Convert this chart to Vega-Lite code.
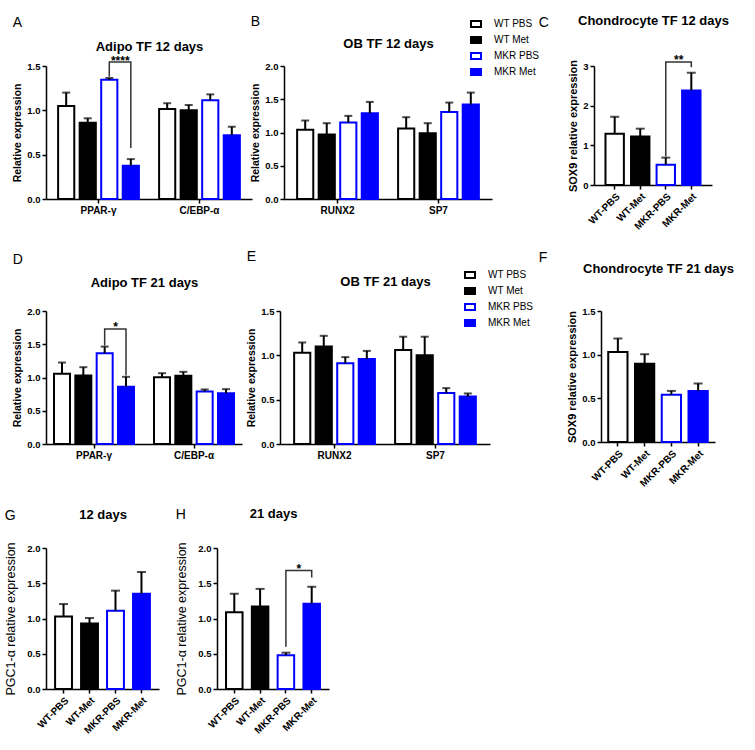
{
  "$schema": "https://vega.github.io/schema/vega-lite/v6.json",
  "padding": {"left": 4, "top": 14, "right": 3, "bottom": 3},
  "background": "white",
  "datasets": {
    "bars": [
      {"p": "A", "gene": "PPAR-γ", "group": "WT PBS", "mean": 1.05, "err": 1.2},
      {"p": "A", "gene": "PPAR-γ", "group": "WT Met", "mean": 0.86, "err": 0.91},
      {"p": "A", "gene": "PPAR-γ", "group": "MKR PBS", "mean": 1.345, "err": 1.365},
      {"p": "A", "gene": "PPAR-γ", "group": "MKR Met", "mean": 0.375, "err": 0.45},
      {"p": "A", "gene": "C/EBP-α", "group": "WT PBS", "mean": 1.015, "err": 1.08},
      {"p": "A", "gene": "C/EBP-α", "group": "WT Met", "mean": 1.0, "err": 1.06},
      {"p": "A", "gene": "C/EBP-α", "group": "MKR PBS", "mean": 1.115, "err": 1.18},
      {"p": "A", "gene": "C/EBP-α", "group": "MKR Met", "mean": 0.72, "err": 0.815},
      {"p": "B", "gene": "RUNX2", "group": "WT PBS", "mean": 1.04, "err": 1.18},
      {"p": "B", "gene": "RUNX2", "group": "WT Met", "mean": 0.97, "err": 1.14},
      {"p": "B", "gene": "RUNX2", "group": "MKR PBS", "mean": 1.15, "err": 1.25},
      {"p": "B", "gene": "RUNX2", "group": "MKR Met", "mean": 1.29, "err": 1.46},
      {"p": "B", "gene": "SP7", "group": "WT PBS", "mean": 1.06, "err": 1.23},
      {"p": "B", "gene": "SP7", "group": "WT Met", "mean": 0.99, "err": 1.14},
      {"p": "B", "gene": "SP7", "group": "MKR PBS", "mean": 1.31, "err": 1.45},
      {"p": "B", "gene": "SP7", "group": "MKR Met", "mean": 1.42, "err": 1.6},
      {"p": "C", "gene": "SOX9", "group": "WT PBS", "mean": 1.29, "err": 1.72},
      {"p": "C", "gene": "SOX9", "group": "WT Met", "mean": 1.22, "err": 1.42},
      {"p": "C", "gene": "SOX9", "group": "MKR PBS", "mean": 0.51, "err": 0.69},
      {"p": "C", "gene": "SOX9", "group": "MKR Met", "mean": 2.38, "err": 2.83},
      {"p": "D", "gene": "PPAR-γ", "group": "WT PBS", "mean": 1.055, "err": 1.225},
      {"p": "D", "gene": "PPAR-γ", "group": "WT Met", "mean": 1.03, "err": 1.155},
      {"p": "D", "gene": "PPAR-γ", "group": "MKR PBS", "mean": 1.365, "err": 1.465},
      {"p": "D", "gene": "PPAR-γ", "group": "MKR Met", "mean": 0.86, "err": 1.01},
      {"p": "D", "gene": "C/EBP-α", "group": "WT PBS", "mean": 1.005, "err": 1.065},
      {"p": "D", "gene": "C/EBP-α", "group": "WT Met", "mean": 1.025, "err": 1.085},
      {"p": "D", "gene": "C/EBP-α", "group": "MKR PBS", "mean": 0.79, "err": 0.82},
      {"p": "D", "gene": "C/EBP-α", "group": "MKR Met", "mean": 0.765, "err": 0.825},
      {"p": "E", "gene": "RUNX2", "group": "WT PBS", "mean": 1.03, "err": 1.145},
      {"p": "E", "gene": "RUNX2", "group": "WT Met", "mean": 1.1, "err": 1.22},
      {"p": "E", "gene": "RUNX2", "group": "MKR PBS", "mean": 0.91, "err": 0.98},
      {"p": "E", "gene": "RUNX2", "group": "MKR Met", "mean": 0.96, "err": 1.05},
      {"p": "E", "gene": "SP7", "group": "WT PBS", "mean": 1.06, "err": 1.21},
      {"p": "E", "gene": "SP7", "group": "WT Met", "mean": 1.0, "err": 1.21},
      {"p": "E", "gene": "SP7", "group": "MKR PBS", "mean": 0.575, "err": 0.63},
      {"p": "E", "gene": "SP7", "group": "MKR Met", "mean": 0.535, "err": 0.57},
      {"p": "F", "gene": "SOX9", "group": "WT PBS", "mean": 1.03, "err": 1.185},
      {"p": "F", "gene": "SOX9", "group": "WT Met", "mean": 0.895, "err": 1.005},
      {"p": "F", "gene": "SOX9", "group": "MKR PBS", "mean": 0.54, "err": 0.585},
      {"p": "F", "gene": "SOX9", "group": "MKR Met", "mean": 0.585, "err": 0.67},
      {"p": "G", "gene": "PGC1", "group": "WT PBS", "mean": 1.03, "err": 1.205},
      {"p": "G", "gene": "PGC1", "group": "WT Met", "mean": 0.93, "err": 1.007},
      {"p": "G", "gene": "PGC1", "group": "MKR PBS", "mean": 1.11, "err": 1.395},
      {"p": "G", "gene": "PGC1", "group": "MKR Met", "mean": 1.35, "err": 1.66},
      {"p": "H", "gene": "PGC1", "group": "WT PBS", "mean": 1.09, "err": 1.35},
      {"p": "H", "gene": "PGC1", "group": "WT Met", "mean": 1.17, "err": 1.42},
      {"p": "H", "gene": "PGC1", "group": "MKR PBS", "mean": 0.48, "err": 0.515},
      {"p": "H", "gene": "PGC1", "group": "MKR Met", "mean": 1.21, "err": 1.45}
    ],
    "brackets": [
      {"p": "A", "gene": "PPAR-γ", "group": "MKR PBS", "y": 1.38, "o": 1},
      {"p": "A", "gene": "PPAR-γ", "group": "MKR PBS", "y": 1.545, "o": 2},
      {"p": "A", "gene": "PPAR-γ", "group": "MKR Met", "y": 1.545, "o": 3},
      {"p": "A", "gene": "PPAR-γ", "group": "MKR Met", "y": 0.575, "o": 4},
      {"p": "C", "gene": "SOX9", "group": "MKR PBS", "y": 0.72, "o": 1},
      {"p": "C", "gene": "SOX9", "group": "MKR PBS", "y": 3.1, "o": 2},
      {"p": "C", "gene": "SOX9", "group": "MKR Met", "y": 3.1, "o": 3},
      {"p": "C", "gene": "SOX9", "group": "MKR Met", "y": 2.97, "o": 4},
      {"p": "D", "gene": "PPAR-γ", "group": "MKR PBS", "y": 1.48, "o": 1},
      {"p": "D", "gene": "PPAR-γ", "group": "MKR PBS", "y": 1.73, "o": 2},
      {"p": "D", "gene": "PPAR-γ", "group": "MKR Met", "y": 1.73, "o": 3},
      {"p": "D", "gene": "PPAR-γ", "group": "MKR Met", "y": 1.03, "o": 4},
      {"p": "H", "gene": "PGC1", "group": "MKR PBS", "y": 0.6, "o": 1},
      {"p": "H", "gene": "PGC1", "group": "MKR PBS", "y": 1.68, "o": 2},
      {"p": "H", "gene": "PGC1", "group": "MKR Met", "y": 1.68, "o": 3},
      {"p": "H", "gene": "PGC1", "group": "MKR Met", "y": 1.58, "o": 4}
    ],
    "stars": [
      {"p": "A", "gene": "PPAR-γ", "group": "MKR PBS", "y": 1.545, "s": "****"},
      {"p": "C", "gene": "SOX9", "group": "MKR PBS", "y": 3.1, "s": "**"},
      {"p": "D", "gene": "PPAR-γ", "group": "MKR PBS", "y": 1.73, "s": "*"},
      {"p": "H", "gene": "PGC1", "group": "MKR PBS", "y": 1.68, "s": "*"}
    ]
  },
  "config": {
    "view": {"stroke": null},
    "axis": {
      "grid": false, "domainColor": "black", "domainWidth": 1.5, "tickColor": "black", "tickWidth": 1.5, "tickSize": 4, "labelPadding": 2,
      "labelColor": "black", "labelFont": "Liberation Sans", "labelFontWeight": "bold", "labelFontSize": 9.5, "labelOverlap": false,
      "titleColor": "black", "titleFont": "Liberation Sans", "titleFontWeight": "bold", "titleFontSize": 10.5, "titlePadding": 4
    },
    "axisY": {"labelOverlap": false},
    "axisQuantitative": {"labelOverlap": false},
    "title": {"font": "Liberation Sans", "fontWeight": "normal", "fontSize": 14, "color": "black", "anchor": "start"},
    "legend": {"labelFont": "Liberation Sans", "labelFontSize": 10, "labelColor": "black"}
  },
  "resolve": {"scale": {"fill": "independent", "stroke": "independent", "xOffset": "independent"}},
  "spacing": 18,
  "vconcat": [
    {
      "resolve": {"scale": {"fill": "independent", "stroke": "independent", "xOffset": "independent"}},
      "spacing": -2,
      "hconcat": [
        {
          "width": 206, "height": 133,
          "title": {"text": "A", "offset": 11},
          "resolve": {"axis": {"x": "independent"}},
          "layer": [
            {
              "data": {"name": "bars"}, "transform": [{"filter": "datum.p === 'A'"}],
              "mark": {"type": "bar", "strokeWidth": 2},
              "encoding": {
                "x": {"field": "gene", "type": "nominal", "sort": ["PPAR-γ", "C/EBP-α"], "title": null, "scale": {"paddingInner": 0.2, "paddingOuter": 0.12}, "axis": {"labelAngle": 0, "labelFontSize": 10}},
                "xOffset": {"field": "group", "type": "nominal", "sort": ["WT PBS", "WT Met", "MKR PBS", "MKR Met"], "scale": {"paddingInner": 0.25}},
                "y": {"field": "mean", "type": "quantitative", "title": "Relative expression", "scale": {"domain": [0, 1.5], "nice": false}, "axis": {"values": [0, 0.5, 1, 1.5], "format": ".1f", "labelOverlap": false}},
                "fill": {"field": "group", "type": "nominal", "legend": null, "scale": {"domain": ["WT PBS", "WT Met", "MKR PBS", "MKR Met"], "range": ["white", "black", "white", "#0000ff"]}},
                "stroke": {"field": "group", "type": "nominal", "legend": null, "scale": {"domain": ["WT PBS", "WT Met", "MKR PBS", "MKR Met"], "range": ["black", "black", "#0000ff", "#0000ff"]}}
              }
            },
            {
              "data": {"name": "bars"}, "transform": [{"filter": "datum.p === 'A'"}],
              "mark": {"type": "rule", "color": "black", "strokeWidth": 2},
              "encoding": {
                "x": {"field": "gene", "type": "nominal", "sort": ["PPAR-γ", "C/EBP-α"], "axis": null},
                "xOffset": {"field": "group", "type": "nominal", "sort": ["WT PBS", "WT Met", "MKR PBS", "MKR Met"]},
                "y": {"field": "mean", "type": "quantitative", "title": "Relative expression", "axis": {"values": [0, 0.5, 1, 1.5], "format": ".1f", "labelOverlap": false}},
                "y2": {"field": "err"}
              }
            },
            {
              "data": {"name": "bars"}, "transform": [{"filter": "datum.p === 'A'"}],
              "mark": {"type": "tick", "color": "black", "thickness": 2, "size": 8},
              "encoding": {
                "x": {"field": "gene", "type": "nominal", "sort": ["PPAR-γ", "C/EBP-α"], "axis": {"orient": "top", "title": "Adipo TF 12 days", "labels": false, "ticks": false, "domain": false, "titlePadding": 12.5, "titleFontSize": 13, "titleFontWeight": "bold", "minExtent": 0}},
                "xOffset": {"field": "group", "type": "nominal", "sort": ["WT PBS", "WT Met", "MKR PBS", "MKR Met"]},
                "y": {"field": "err", "type": "quantitative", "title": "Relative expression", "axis": {"values": [0, 0.5, 1, 1.5], "format": ".1f", "labelOverlap": false}}
              }
            },
            {
              "data": {"name": "brackets"}, "transform": [{"filter": "datum.p === 'A'"}],
              "mark": {"type": "line", "color": "#333333", "strokeWidth": 1.5},
              "encoding": {
                "x": {"field": "gene", "type": "nominal", "sort": ["PPAR-γ", "C/EBP-α"], "axis": null},
                "xOffset": {"field": "group", "type": "nominal", "sort": ["WT PBS", "WT Met", "MKR PBS", "MKR Met"]},
                "y": {"field": "y", "type": "quantitative", "title": "Relative expression", "axis": {"values": [0, 0.5, 1, 1.5], "format": ".1f", "labelOverlap": false}},
                "order": {"field": "o"}
              }
            },
            {
              "data": {"name": "stars"}, "transform": [{"filter": "datum.p === 'A'"}],
              "mark": {"type": "text", "font": "Liberation Sans", "fontWeight": "bold", "fontSize": 12, "dx": 11, "dy": 3, "baseline": "alphabetic", "color": "black"},
              "encoding": {
                "x": {"field": "gene", "type": "nominal", "sort": ["PPAR-γ", "C/EBP-α"], "axis": null},
                "xOffset": {"field": "group", "type": "nominal", "sort": ["WT PBS", "WT Met", "MKR PBS", "MKR Met"]},
                "y": {"field": "y", "type": "quantitative", "title": "Relative expression", "axis": {"values": [0, 0.5, 1, 1.5], "format": ".1f", "labelOverlap": false}},
                "text": {"field": "s"}
              }
            }
          ]
        },
        {
          "width": 208, "height": 133,
          "title": {"text": "B", "offset": 0, "dy": 11},
          "resolve": {"axis": {"x": "independent"}},
          "layer": [
            {
              "data": {"name": "bars"}, "transform": [{"filter": "datum.p === 'B'"}],
              "mark": {"type": "bar", "strokeWidth": 2},
              "encoding": {
                "x": {"field": "gene", "type": "nominal", "sort": ["RUNX2", "SP7"], "title": null, "scale": {"paddingInner": 0.2, "paddingOuter": 0.13}, "axis": {"labelAngle": 0, "labelFontSize": 10}},
                "xOffset": {"field": "group", "type": "nominal", "sort": ["WT PBS", "WT Met", "MKR PBS", "MKR Met"], "scale": {"paddingInner": 0.25}},
                "y": {"field": "mean", "type": "quantitative", "title": "Relative expression", "scale": {"domain": [0, 2], "nice": false}, "axis": {"values": [0, 0.5, 1, 1.5, 2], "format": ".1f", "labelOverlap": false}},
                "fill": {"field": "group", "type": "nominal", "title": null, "scale": {"domain": ["WT PBS", "WT Met", "MKR PBS", "MKR Met"], "range": ["white", "black", "white", "#0000ff"]},
                  "legend": {"orient": "none", "legendX": 186, "legendY": -48, "symbolType": "M-1,-0.6H1V0.6H-1Z", "symbolSize": 100, "symbolStrokeWidth": 2, "labelOffset": 12, "rowPadding": 2}},
                "stroke": {"field": "group", "type": "nominal", "title": null, "scale": {"domain": ["WT PBS", "WT Met", "MKR PBS", "MKR Met"], "range": ["black", "black", "#0000ff", "#0000ff"]},
                  "legend": {"orient": "none", "legendX": 186, "legendY": -48, "symbolType": "M-1,-0.6H1V0.6H-1Z", "symbolSize": 100, "symbolStrokeWidth": 2, "labelOffset": 12, "rowPadding": 2}}
              }
            },
            {
              "data": {"name": "bars"}, "transform": [{"filter": "datum.p === 'B'"}],
              "mark": {"type": "rule", "color": "black", "strokeWidth": 2},
              "encoding": {
                "x": {"field": "gene", "type": "nominal", "sort": ["RUNX2", "SP7"], "axis": null},
                "xOffset": {"field": "group", "type": "nominal", "sort": ["WT PBS", "WT Met", "MKR PBS", "MKR Met"]},
                "y": {"field": "mean", "type": "quantitative", "title": "Relative expression", "axis": {"values": [0, 0.5, 1, 1.5, 2], "format": ".1f", "labelOverlap": false}},
                "y2": {"field": "err"}
              }
            },
            {
              "data": {"name": "bars"}, "transform": [{"filter": "datum.p === 'B'"}],
              "mark": {"type": "tick", "color": "black", "thickness": 2, "size": 8},
              "encoding": {
                "x": {"field": "gene", "type": "nominal", "sort": ["RUNX2", "SP7"], "axis": {"orient": "top", "title": "OB TF 12 days", "labels": false, "ticks": false, "domain": false, "titlePadding": 15.5, "titleFontSize": 13, "titleFontWeight": "bold", "minExtent": 0}},
                "xOffset": {"field": "group", "type": "nominal", "sort": ["WT PBS", "WT Met", "MKR PBS", "MKR Met"]},
                "y": {"field": "err", "type": "quantitative", "title": "Relative expression", "axis": {"values": [0, 0.5, 1, 1.5, 2], "format": ".1f", "labelOverlap": false}}
              }
            }
          ]
        },
        {
          "width": 118, "height": 119,
          "title": {"text": "C", "offset": 0, "dy": 15, "dx": -29},
          "resolve": {"axis": {"x": "independent"}},
          "layer": [
            {
              "data": {"name": "bars"}, "transform": [{"filter": "datum.p === 'C'"}],
              "mark": {"type": "bar", "strokeWidth": 2},
              "encoding": {
                "x": {"field": "group", "type": "nominal", "sort": ["WT PBS", "WT Met", "MKR PBS", "MKR Met"], "title": null, "scale": {"paddingInner": 0.28, "paddingOuter": 0.45}, "axis": {"labelAngle": -45, "labelFontSize": 10, "labelExpr": "replace(datum.label, ' ', '-')"}},
                "y": {"field": "mean", "type": "quantitative", "title": "SOX9 relative expression", "scale": {"domain": [0, 3], "nice": false}, "axis": {"values": [0, 1, 2, 3], "format": "d", "titleFontSize": 11, "labelOverlap": false}},
                "fill": {"field": "group", "type": "nominal", "legend": null, "scale": {"domain": ["WT PBS", "WT Met", "MKR PBS", "MKR Met"], "range": ["white", "black", "white", "#0000ff"]}},
                "stroke": {"field": "group", "type": "nominal", "legend": null, "scale": {"domain": ["WT PBS", "WT Met", "MKR PBS", "MKR Met"], "range": ["black", "black", "#0000ff", "#0000ff"]}}
              }
            },
            {
              "data": {"name": "bars"}, "transform": [{"filter": "datum.p === 'C'"}],
              "mark": {"type": "rule", "color": "black", "strokeWidth": 2},
              "encoding": {
                "x": {"field": "group", "type": "nominal", "sort": ["WT PBS", "WT Met", "MKR PBS", "MKR Met"], "axis": null},
                "y": {"field": "mean", "type": "quantitative", "title": "SOX9 relative expression", "axis": {"values": [0, 1, 2, 3], "format": "d", "titleFontSize": 11, "labelOverlap": false}},
                "y2": {"field": "err"}
              }
            },
            {
              "data": {"name": "bars"}, "transform": [{"filter": "datum.p === 'C'"}],
              "mark": {"type": "tick", "color": "black", "thickness": 2, "size": 9},
              "encoding": {
                "x": {"field": "group", "type": "nominal", "sort": ["WT PBS", "WT Met", "MKR PBS", "MKR Met"], "axis": {"orient": "top", "title": "Chondrocyte TF 12 days", "labels": false, "ticks": false, "domain": false, "titlePadding": 38.5, "titleFontSize": 13, "titleFontWeight": "bold", "minExtent": 0}},
                "y": {"field": "err", "type": "quantitative", "title": "SOX9 relative expression", "axis": {"values": [0, 1, 2, 3], "format": "d", "titleFontSize": 11, "labelOverlap": false}}
              }
            },
            {
              "data": {"name": "brackets"}, "transform": [{"filter": "datum.p === 'C'"}],
              "mark": {"type": "line", "color": "#333333", "strokeWidth": 1.5},
              "encoding": {
                "x": {"field": "group", "type": "nominal", "sort": ["WT PBS", "WT Met", "MKR PBS", "MKR Met"], "axis": null},
                "y": {"field": "y", "type": "quantitative", "title": "SOX9 relative expression", "axis": {"values": [0, 1, 2, 3], "format": "d", "titleFontSize": 11, "labelOverlap": false}},
                "order": {"field": "o"}
              }
            },
            {
              "data": {"name": "stars"}, "transform": [{"filter": "datum.p === 'C'"}],
              "mark": {"type": "text", "font": "Liberation Sans", "fontWeight": "bold", "fontSize": 12, "dx": 13, "dy": 2, "baseline": "alphabetic", "color": "black"},
              "encoding": {
                "x": {"field": "group", "type": "nominal", "sort": ["WT PBS", "WT Met", "MKR PBS", "MKR Met"], "axis": null},
                "y": {"field": "y", "type": "quantitative", "title": "SOX9 relative expression", "axis": {"values": [0, 1, 2, 3], "format": "d", "titleFontSize": 11, "labelOverlap": false}},
                "text": {"field": "s"}
              }
            }
          ]
        }
      ]
    },
    {
      "resolve": {"scale": {"fill": "independent", "stroke": "independent", "xOffset": "independent"}},
      "spacing": 4,
      "hconcat": [
        {
          "width": 196, "height": 133,
          "title": {"text": "D", "offset": 10},
          "resolve": {"axis": {"x": "independent"}},
          "layer": [
            {
              "data": {"name": "bars"}, "transform": [{"filter": "datum.p === 'D'"}],
              "mark": {"type": "bar", "strokeWidth": 2},
              "encoding": {
                "x": {"field": "gene", "type": "nominal", "sort": ["PPAR-γ", "C/EBP-α"], "title": null, "scale": {"paddingInner": 0.2, "paddingOuter": 0.08}, "axis": {"labelAngle": 0, "labelFontSize": 10}},
                "xOffset": {"field": "group", "type": "nominal", "sort": ["WT PBS", "WT Met", "MKR PBS", "MKR Met"], "scale": {"paddingInner": 0.25}},
                "y": {"field": "mean", "type": "quantitative", "title": "Relative expression", "scale": {"domain": [0, 2], "nice": false}, "axis": {"values": [0, 0.5, 1, 1.5, 2], "format": ".1f", "labelOverlap": false}},
                "fill": {"field": "group", "type": "nominal", "legend": null, "scale": {"domain": ["WT PBS", "WT Met", "MKR PBS", "MKR Met"], "range": ["white", "black", "white", "#0000ff"]}},
                "stroke": {"field": "group", "type": "nominal", "legend": null, "scale": {"domain": ["WT PBS", "WT Met", "MKR PBS", "MKR Met"], "range": ["black", "black", "#0000ff", "#0000ff"]}}
              }
            },
            {
              "data": {"name": "bars"}, "transform": [{"filter": "datum.p === 'D'"}],
              "mark": {"type": "rule", "color": "black", "strokeWidth": 2},
              "encoding": {
                "x": {"field": "gene", "type": "nominal", "sort": ["PPAR-γ", "C/EBP-α"], "axis": null},
                "xOffset": {"field": "group", "type": "nominal", "sort": ["WT PBS", "WT Met", "MKR PBS", "MKR Met"]},
                "y": {"field": "mean", "type": "quantitative", "title": "Relative expression", "axis": {"values": [0, 0.5, 1, 1.5, 2], "format": ".1f", "labelOverlap": false}},
                "y2": {"field": "err"}
              }
            },
            {
              "data": {"name": "bars"}, "transform": [{"filter": "datum.p === 'D'"}],
              "mark": {"type": "tick", "color": "black", "thickness": 2, "size": 8},
              "encoding": {
                "x": {"field": "gene", "type": "nominal", "sort": ["PPAR-γ", "C/EBP-α"], "axis": {"orient": "top", "title": "Adipo TF 21 days", "labels": false, "ticks": false, "domain": false, "titlePadding": 21.5, "titleFontSize": 13, "titleFontWeight": "bold", "minExtent": 0}},
                "xOffset": {"field": "group", "type": "nominal", "sort": ["WT PBS", "WT Met", "MKR PBS", "MKR Met"]},
                "y": {"field": "err", "type": "quantitative", "title": "Relative expression", "axis": {"values": [0, 0.5, 1, 1.5, 2], "format": ".1f", "labelOverlap": false}}
              }
            },
            {
              "data": {"name": "brackets"}, "transform": [{"filter": "datum.p === 'D'"}],
              "mark": {"type": "line", "color": "#333333", "strokeWidth": 1.5},
              "encoding": {
                "x": {"field": "gene", "type": "nominal", "sort": ["PPAR-γ", "C/EBP-α"], "axis": null},
                "xOffset": {"field": "group", "type": "nominal", "sort": ["WT PBS", "WT Met", "MKR PBS", "MKR Met"]},
                "y": {"field": "y", "type": "quantitative", "title": "Relative expression", "axis": {"values": [0, 0.5, 1, 1.5, 2], "format": ".1f", "labelOverlap": false}},
                "order": {"field": "o"}
              }
            },
            {
              "data": {"name": "stars"}, "transform": [{"filter": "datum.p === 'D'"}],
              "mark": {"type": "text", "font": "Liberation Sans", "fontWeight": "bold", "fontSize": 12, "dx": 11, "dy": 2, "baseline": "alphabetic", "color": "black"},
              "encoding": {
                "x": {"field": "gene", "type": "nominal", "sort": ["PPAR-γ", "C/EBP-α"], "axis": null},
                "xOffset": {"field": "group", "type": "nominal", "sort": ["WT PBS", "WT Met", "MKR PBS", "MKR Met"]},
                "y": {"field": "y", "type": "quantitative", "title": "Relative expression", "axis": {"values": [0, 0.5, 1, 1.5, 2], "format": ".1f", "labelOverlap": false}},
                "text": {"field": "s"}
              }
            }
          ]
        },
        {
          "width": 210, "height": 133,
          "title": {"text": "E", "offset": 5},
          "resolve": {"axis": {"x": "independent"}},
          "layer": [
            {
              "data": {"name": "bars"}, "transform": [{"filter": "datum.p === 'E'"}],
              "mark": {"type": "bar", "strokeWidth": 2},
              "encoding": {
                "x": {"field": "gene", "type": "nominal", "sort": ["RUNX2", "SP7"], "title": null, "scale": {"paddingInner": 0.2, "paddingOuter": 0.14}, "axis": {"labelAngle": 0, "labelFontSize": 10}},
                "xOffset": {"field": "group", "type": "nominal", "sort": ["WT PBS", "WT Met", "MKR PBS", "MKR Met"], "scale": {"paddingInner": 0.25}},
                "y": {"field": "mean", "type": "quantitative", "title": "Relative expression", "scale": {"domain": [0, 1.5], "nice": false}, "axis": {"values": [0, 0.5, 1, 1.5], "format": ".1f", "labelOverlap": false}},
                "fill": {"field": "group", "type": "nominal", "title": null, "scale": {"domain": ["WT PBS", "WT Met", "MKR PBS", "MKR Met"], "range": ["white", "black", "white", "#0000ff"]},
                  "legend": {"orient": "none", "legendX": 184, "legendY": -42, "symbolType": "M-1,-0.6H1V0.6H-1Z", "symbolSize": 100, "symbolStrokeWidth": 2, "labelOffset": 12, "rowPadding": 2}},
                "stroke": {"field": "group", "type": "nominal", "title": null, "scale": {"domain": ["WT PBS", "WT Met", "MKR PBS", "MKR Met"], "range": ["black", "black", "#0000ff", "#0000ff"]},
                  "legend": {"orient": "none", "legendX": 184, "legendY": -42, "symbolType": "M-1,-0.6H1V0.6H-1Z", "symbolSize": 100, "symbolStrokeWidth": 2, "labelOffset": 12, "rowPadding": 2}}
              }
            },
            {
              "data": {"name": "bars"}, "transform": [{"filter": "datum.p === 'E'"}],
              "mark": {"type": "rule", "color": "black", "strokeWidth": 2},
              "encoding": {
                "x": {"field": "gene", "type": "nominal", "sort": ["RUNX2", "SP7"], "axis": null},
                "xOffset": {"field": "group", "type": "nominal", "sort": ["WT PBS", "WT Met", "MKR PBS", "MKR Met"]},
                "y": {"field": "mean", "type": "quantitative", "title": "Relative expression", "axis": {"values": [0, 0.5, 1, 1.5], "format": ".1f", "labelOverlap": false}},
                "y2": {"field": "err"}
              }
            },
            {
              "data": {"name": "bars"}, "transform": [{"filter": "datum.p === 'E'"}],
              "mark": {"type": "tick", "color": "black", "thickness": 2, "size": 8},
              "encoding": {
                "x": {"field": "gene", "type": "nominal", "sort": ["RUNX2", "SP7"], "axis": {"orient": "top", "title": "OB TF 21 days", "labels": false, "ticks": false, "domain": false, "titlePadding": 22.5, "titleFontSize": 13, "titleFontWeight": "bold", "minExtent": 0}},
                "xOffset": {"field": "group", "type": "nominal", "sort": ["WT PBS", "WT Met", "MKR PBS", "MKR Met"]},
                "y": {"field": "err", "type": "quantitative", "title": "Relative expression", "axis": {"values": [0, 0.5, 1, 1.5], "format": ".1f", "labelOverlap": false}}
              }
            }
          ]
        },
        {
          "width": 114, "height": 131,
          "title": {"text": "F", "offset": 0, "dy": 2, "dx": -28},
          "resolve": {"axis": {"x": "independent"}},
          "layer": [
            {
              "data": {"name": "bars"}, "transform": [{"filter": "datum.p === 'F'"}],
              "mark": {"type": "bar", "strokeWidth": 2},
              "encoding": {
                "x": {"field": "group", "type": "nominal", "sort": ["WT PBS", "WT Met", "MKR PBS", "MKR Met"], "title": null, "scale": {"paddingInner": 0.28, "paddingOuter": 0.27}, "axis": {"labelAngle": -45, "labelFontSize": 10, "labelExpr": "replace(datum.label, ' ', '-')"}},
                "y": {"field": "mean", "type": "quantitative", "title": "SOX9 relative expression", "scale": {"domain": [0, 1.5], "nice": false}, "axis": {"values": [0, 0.5, 1, 1.5], "format": ".1f", "titleFontSize": 11, "labelOverlap": false}},
                "fill": {"field": "group", "type": "nominal", "legend": null, "scale": {"domain": ["WT PBS", "WT Met", "MKR PBS", "MKR Met"], "range": ["white", "black", "white", "#0000ff"]}},
                "stroke": {"field": "group", "type": "nominal", "legend": null, "scale": {"domain": ["WT PBS", "WT Met", "MKR PBS", "MKR Met"], "range": ["black", "black", "#0000ff", "#0000ff"]}}
              }
            },
            {
              "data": {"name": "bars"}, "transform": [{"filter": "datum.p === 'F'"}],
              "mark": {"type": "rule", "color": "black", "strokeWidth": 2},
              "encoding": {
                "x": {"field": "group", "type": "nominal", "sort": ["WT PBS", "WT Met", "MKR PBS", "MKR Met"], "axis": null},
                "y": {"field": "mean", "type": "quantitative", "title": "SOX9 relative expression", "axis": {"values": [0, 0.5, 1, 1.5], "format": ".1f", "titleFontSize": 11, "labelOverlap": false}},
                "y2": {"field": "err"}
              }
            },
            {
              "data": {"name": "bars"}, "transform": [{"filter": "datum.p === 'F'"}],
              "mark": {"type": "tick", "color": "black", "thickness": 2, "size": 9},
              "encoding": {
                "x": {"field": "group", "type": "nominal", "sort": ["WT PBS", "WT Met", "MKR PBS", "MKR Met"], "axis": {"orient": "top", "title": "Chondrocyte TF 21 days", "labels": false, "ticks": false, "domain": false, "titlePadding": 35.5, "titleFontSize": 13, "titleFontWeight": "bold", "minExtent": 0}},
                "y": {"field": "err", "type": "quantitative", "title": "SOX9 relative expression", "axis": {"values": [0, 0.5, 1, 1.5], "format": ".1f", "titleFontSize": 11, "labelOverlap": false}}
              }
            }
          ]
        }
      ]
    },
    {
      "resolve": {"scale": {"fill": "independent", "stroke": "independent", "xOffset": "independent"}},
      "spacing": 16,
      "hconcat": [
        {
          "width": 113, "height": 141,
          "title": {"text": "G", "offset": 0, "dy": 14},
          "resolve": {"axis": {"x": "independent"}},
          "layer": [
            {
              "data": {"name": "bars"}, "transform": [{"filter": "datum.p === 'G'"}],
              "mark": {"type": "bar", "strokeWidth": 2},
              "encoding": {
                "x": {"field": "group", "type": "nominal", "sort": ["WT PBS", "WT Met", "MKR PBS", "MKR Met"], "title": null, "scale": {"paddingInner": 0.35, "paddingOuter": 0.35}, "axis": {"labelAngle": -45, "labelFontSize": 10, "labelExpr": "replace(datum.label, ' ', '-')"}},
                "y": {"field": "mean", "type": "quantitative", "title": "PGC1-α relative expression", "scale": {"domain": [0, 2], "nice": false}, "axis": {"values": [0, 0.5, 1, 1.5, 2], "format": ".1f", "titleFontSize": 12.5, "titleFontWeight": "normal", "titlePadding": 9, "labelOverlap": false}},
                "fill": {"field": "group", "type": "nominal", "legend": null, "scale": {"domain": ["WT PBS", "WT Met", "MKR PBS", "MKR Met"], "range": ["white", "black", "white", "#0000ff"]}},
                "stroke": {"field": "group", "type": "nominal", "legend": null, "scale": {"domain": ["WT PBS", "WT Met", "MKR PBS", "MKR Met"], "range": ["black", "black", "#0000ff", "#0000ff"]}}
              }
            },
            {
              "data": {"name": "bars"}, "transform": [{"filter": "datum.p === 'G'"}],
              "mark": {"type": "rule", "color": "black", "strokeWidth": 2},
              "encoding": {
                "x": {"field": "group", "type": "nominal", "sort": ["WT PBS", "WT Met", "MKR PBS", "MKR Met"], "axis": null},
                "y": {"field": "mean", "type": "quantitative", "title": "PGC1-α relative expression", "axis": {"values": [0, 0.5, 1, 1.5, 2], "format": ".1f", "titleFontSize": 12.5, "titleFontWeight": "normal", "titlePadding": 9, "labelOverlap": false}},
                "y2": {"field": "err"}
              }
            },
            {
              "data": {"name": "bars"}, "transform": [{"filter": "datum.p === 'G'"}],
              "mark": {"type": "tick", "color": "black", "thickness": 2, "size": 9},
              "encoding": {
                "x": {"field": "group", "type": "nominal", "sort": ["WT PBS", "WT Met", "MKR PBS", "MKR Met"], "axis": {"orient": "top", "title": "12 days", "labels": false, "ticks": false, "domain": false, "titlePadding": 26.5, "titleFontSize": 13, "titleFontWeight": "bold", "minExtent": 0}},
                "y": {"field": "err", "type": "quantitative", "title": "PGC1-α relative expression", "axis": {"values": [0, 0.5, 1, 1.5, 2], "format": ".1f", "titleFontSize": 12.5, "titleFontWeight": "normal", "titlePadding": 9, "labelOverlap": false}}
              }
            }
          ]
        },
        {
          "width": 112, "height": 141,
          "title": {"text": "H", "offset": 0, "dy": 14},
          "resolve": {"axis": {"x": "independent"}},
          "layer": [
            {
              "data": {"name": "bars"}, "transform": [{"filter": "datum.p === 'H'"}],
              "mark": {"type": "bar", "strokeWidth": 2},
              "encoding": {
                "x": {"field": "group", "type": "nominal", "sort": ["WT PBS", "WT Met", "MKR PBS", "MKR Met"], "title": null, "scale": {"paddingInner": 0.36, "paddingOuter": 0.35}, "axis": {"labelAngle": -45, "labelFontSize": 10, "labelExpr": "replace(datum.label, ' ', '-')"}},
                "y": {"field": "mean", "type": "quantitative", "title": "PGC1-α relative expression", "scale": {"domain": [0, 2], "nice": false}, "axis": {"values": [0, 0.5, 1, 1.5, 2], "format": ".1f", "titleFontSize": 12.5, "titleFontWeight": "normal", "titlePadding": 9, "labelOverlap": false}},
                "fill": {"field": "group", "type": "nominal", "legend": null, "scale": {"domain": ["WT PBS", "WT Met", "MKR PBS", "MKR Met"], "range": ["white", "black", "white", "#0000ff"]}},
                "stroke": {"field": "group", "type": "nominal", "legend": null, "scale": {"domain": ["WT PBS", "WT Met", "MKR PBS", "MKR Met"], "range": ["black", "black", "#0000ff", "#0000ff"]}}
              }
            },
            {
              "data": {"name": "bars"}, "transform": [{"filter": "datum.p === 'H'"}],
              "mark": {"type": "rule", "color": "black", "strokeWidth": 2},
              "encoding": {
                "x": {"field": "group", "type": "nominal", "sort": ["WT PBS", "WT Met", "MKR PBS", "MKR Met"], "axis": null},
                "y": {"field": "mean", "type": "quantitative", "title": "PGC1-α relative expression", "axis": {"values": [0, 0.5, 1, 1.5, 2], "format": ".1f", "titleFontSize": 12.5, "titleFontWeight": "normal", "titlePadding": 9, "labelOverlap": false}},
                "y2": {"field": "err"}
              }
            },
            {
              "data": {"name": "bars"}, "transform": [{"filter": "datum.p === 'H'"}],
              "mark": {"type": "tick", "color": "black", "thickness": 2, "size": 9},
              "encoding": {
                "x": {"field": "group", "type": "nominal", "sort": ["WT PBS", "WT Met", "MKR PBS", "MKR Met"], "axis": {"orient": "top", "title": "21 days", "labels": false, "ticks": false, "domain": false, "titlePadding": 27.5, "titleFontSize": 13, "titleFontWeight": "bold", "minExtent": 0}},
                "y": {"field": "err", "type": "quantitative", "title": "PGC1-α relative expression", "axis": {"values": [0, 0.5, 1, 1.5, 2], "format": ".1f", "titleFontSize": 12.5, "titleFontWeight": "normal", "titlePadding": 9, "labelOverlap": false}}
              }
            },
            {
              "data": {"name": "brackets"}, "transform": [{"filter": "datum.p === 'H'"}],
              "mark": {"type": "line", "color": "#333333", "strokeWidth": 1.5},
              "encoding": {
                "x": {"field": "group", "type": "nominal", "sort": ["WT PBS", "WT Met", "MKR PBS", "MKR Met"], "axis": null},
                "y": {"field": "y", "type": "quantitative", "title": "PGC1-α relative expression", "axis": {"values": [0, 0.5, 1, 1.5, 2], "format": ".1f", "titleFontSize": 12.5, "titleFontWeight": "normal", "titlePadding": 9, "labelOverlap": false}},
                "order": {"field": "o"}
              }
            },
            {
              "data": {"name": "stars"}, "transform": [{"filter": "datum.p === 'H'"}],
              "mark": {"type": "text", "font": "Liberation Sans", "fontWeight": "bold", "fontSize": 12, "dx": 13, "dy": 2, "baseline": "alphabetic", "color": "black"},
              "encoding": {
                "x": {"field": "group", "type": "nominal", "sort": ["WT PBS", "WT Met", "MKR PBS", "MKR Met"], "axis": null},
                "y": {"field": "y", "type": "quantitative", "title": "PGC1-α relative expression", "axis": {"values": [0, 0.5, 1, 1.5, 2], "format": ".1f", "titleFontSize": 12.5, "titleFontWeight": "normal", "titlePadding": 9, "labelOverlap": false}},
                "text": {"field": "s"}
              }
            }
          ]
        }
      ]
    }
  ]
}
